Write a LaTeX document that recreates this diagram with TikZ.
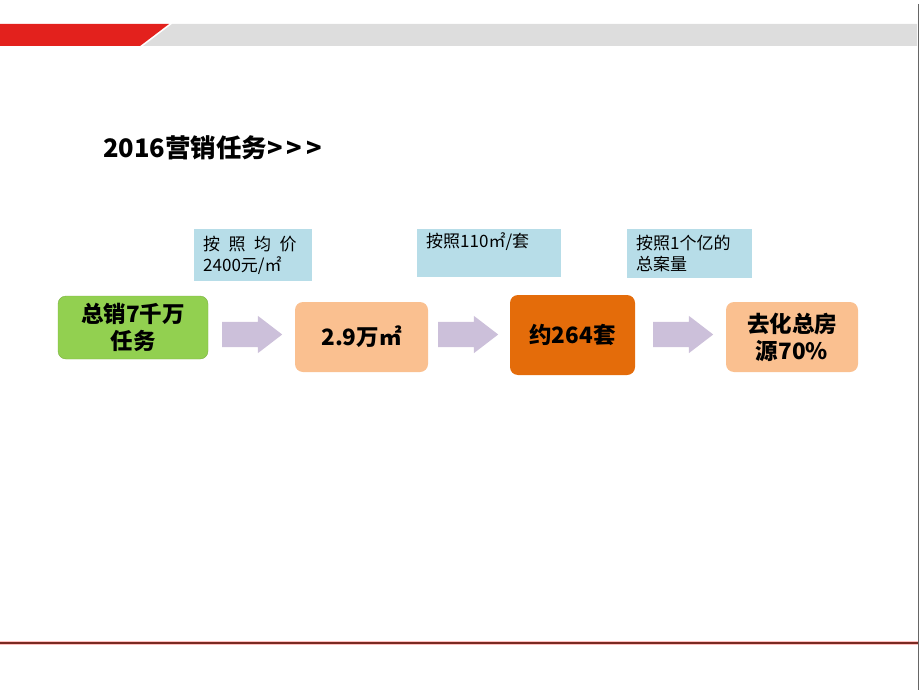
\documentclass[tikz,border=0pt]{standalone}
\usepackage{fontspec}
\newfontfamily\cjk{Noto Sans CJK SC}
\usetikzlibrary{shapes.arrows}

\definecolor{barred}{HTML}{E3211D}
\definecolor{bargrey}{HTML}{DDDDDD}
\definecolor{linered}{HTML}{7A2A22}
\definecolor{tipblue}{HTML}{B7DDE8}
\definecolor{taskgreen}{HTML}{92D050}
\definecolor{lightorange}{HTML}{FAC090}
\definecolor{darkorange}{HTML}{E46C0A}
\definecolor{arrowlilac}{HTML}{CCC0DA}

\begin{document}
\begin{tikzpicture}[x=1pt,y=-1pt,
  tipbox/.style={fill=tipblue, anchor=north west, align=left, inner xsep=9pt, inner ysep=3pt,
    font=\cjk\fontsize{17}{21}\selectfont},
  stepbox/.style={rounded corners=8pt, inner sep=0pt, align=center,
    font=\cjk\bfseries\fontsize{22.5}{27}\selectfont},
  flowarrow/.style={single arrow, fill=arrowlilac, inner sep=12.5pt, minimum height=60pt,
    minimum width=37pt, single arrow head extend=6pt, single arrow tip angle=75,
    single arrow head indent=0pt, anchor=tail}]
  \useasboundingbox (0,0) rectangle (920,690);

  % slide frame
  \fill[bargrey] (172,24) -- (917,24) -- (917,46) -- (143,46) -- cycle;
  \fill[barred]  (0,24) -- (169,24) -- (140,46) -- (0,46) -- cycle;
  \draw[red!25, line width=4pt] (0,643) -- (918,643);
  \draw[linered, line width=1.6pt] (0,643) -- (918,643);
  \draw[gray!80!black, line width=0.8pt] (918.5,4) -- (918.5,690);

  \node at (103,148) [anchor=west, inner sep=0pt, font=\cjk\bfseries\fontsize{25.5}{30}\selectfont] (title) {2016营销任务>\hspace{4pt}>\hspace{4pt}>};

  % hints
  \node at (194,229) [tipbox, text width=100pt, minimum height=52pt] (tip1) {按\enspace 照\enspace 均\enspace 价\\2400元/㎡};
  \node at (417,229) [tipbox, text width=126pt, minimum height=48pt, text depth=26pt] (tip2) {按照110㎡/套};
  \node at (627,229) [tipbox, text width=107pt, minimum height=49pt] (tip3) {按照1个亿的\\总案量};

  % steps
  \node at (133,327.5) [stepbox, fill=taskgreen, draw=taskgreen!85!black, minimum width=150pt, minimum height=63pt] (task) {总销7千万\\任务};
  \node at (361.5,337) [stepbox, fill=lightorange, minimum width=133pt, minimum height=70pt] (area) {2.9万㎡};
  \node at (572.5,335) [stepbox, fill=darkorange, minimum width=125pt, minimum height=80pt] (sets) {约264套};
  \node at (792,337) [stepbox, fill=lightorange, minimum width=132pt, minimum height=70pt] (stock) {去化总房\\源70\%};

  \node at (222,334.5) [flowarrow] (arr1) {};
  \node at (438,334.5) [flowarrow] (arr2) {};
  \node at (653,334.5) [flowarrow] (arr3) {};

\end{tikzpicture}
\end{document}
